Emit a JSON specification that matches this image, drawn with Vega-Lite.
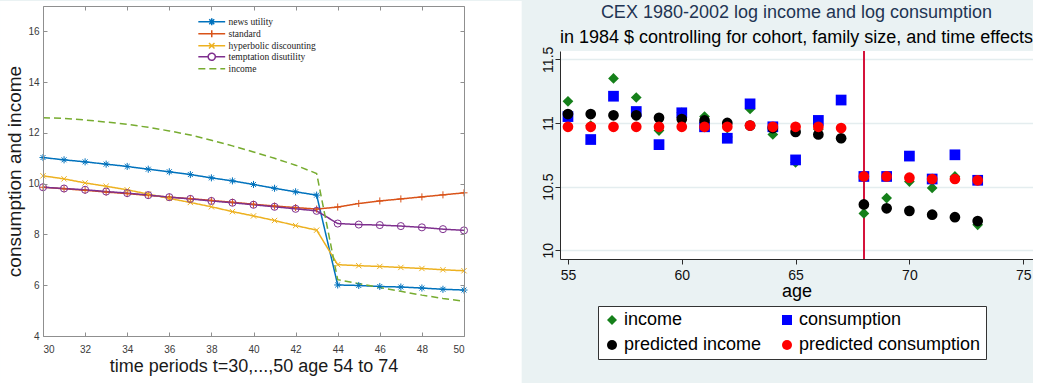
{
  "$schema": "https://vega.github.io/schema/vega-lite/v6.json",
  "background": "#eaf2f3",
  "padding": 0,
  "spacing": 19,
  "resolve": {"scale": {"color": "independent", "shape": "independent", "strokeDash": "independent"}, "legend": {"color": "independent", "shape": "independent", "strokeDash": "independent"}},
  "datasets": {
    "sim": [
      {"t": 30, "series": "news utility", "value": 11.03}, {"t": 31, "series": "news utility", "value": 10.94}, {"t": 32, "series": "news utility", "value": 10.86}, {"t": 33, "series": "news utility", "value": 10.77}, {"t": 34, "series": "news utility", "value": 10.68}, {"t": 35, "series": "news utility", "value": 10.57}, {"t": 36, "series": "news utility", "value": 10.47}, {"t": 37, "series": "news utility", "value": 10.36}, {"t": 38, "series": "news utility", "value": 10.23}, {"t": 39, "series": "news utility", "value": 10.11}, {"t": 40, "series": "news utility", "value": 9.97}, {"t": 41, "series": "news utility", "value": 9.82}, {"t": 42, "series": "news utility", "value": 9.68}, {"t": 43, "series": "news utility", "value": 9.55}, {"t": 44, "series": "news utility", "value": 6.01}, {"t": 45, "series": "news utility", "value": 5.99}, {"t": 46, "series": "news utility", "value": 5.95}, {"t": 47, "series": "news utility", "value": 5.93}, {"t": 48, "series": "news utility", "value": 5.89}, {"t": 49, "series": "news utility", "value": 5.84}, {"t": 50, "series": "news utility", "value": 5.81},
      {"t": 30, "series": "standard", "value": 9.86}, {"t": 31, "series": "standard", "value": 9.8}, {"t": 32, "series": "standard", "value": 9.74}, {"t": 33, "series": "standard", "value": 9.67}, {"t": 34, "series": "standard", "value": 9.61}, {"t": 35, "series": "standard", "value": 9.54}, {"t": 36, "series": "standard", "value": 9.47}, {"t": 37, "series": "standard", "value": 9.41}, {"t": 38, "series": "standard", "value": 9.34}, {"t": 39, "series": "standard", "value": 9.27}, {"t": 40, "series": "standard", "value": 9.19}, {"t": 41, "series": "standard", "value": 9.12}, {"t": 42, "series": "standard", "value": 9.06}, {"t": 43, "series": "standard", "value": 9.0}, {"t": 44, "series": "standard", "value": 9.08}, {"t": 45, "series": "standard", "value": 9.22}, {"t": 46, "series": "standard", "value": 9.32}, {"t": 47, "series": "standard", "value": 9.4}, {"t": 48, "series": "standard", "value": 9.48}, {"t": 49, "series": "standard", "value": 9.56}, {"t": 50, "series": "standard", "value": 9.64},
      {"t": 30, "series": "hyperbolic discounting", "value": 10.31}, {"t": 31, "series": "hyperbolic discounting", "value": 10.19}, {"t": 32, "series": "hyperbolic discounting", "value": 10.03}, {"t": 33, "series": "hyperbolic discounting", "value": 9.9}, {"t": 34, "series": "hyperbolic discounting", "value": 9.76}, {"t": 35, "series": "hyperbolic discounting", "value": 9.59}, {"t": 36, "series": "hyperbolic discounting", "value": 9.42}, {"t": 37, "series": "hyperbolic discounting", "value": 9.26}, {"t": 38, "series": "hyperbolic discounting", "value": 9.09}, {"t": 39, "series": "hyperbolic discounting", "value": 8.9}, {"t": 40, "series": "hyperbolic discounting", "value": 8.73}, {"t": 41, "series": "hyperbolic discounting", "value": 8.55}, {"t": 42, "series": "hyperbolic discounting", "value": 8.35}, {"t": 43, "series": "hyperbolic discounting", "value": 8.17}, {"t": 44, "series": "hyperbolic discounting", "value": 6.81}, {"t": 45, "series": "hyperbolic discounting", "value": 6.77}, {"t": 46, "series": "hyperbolic discounting", "value": 6.74}, {"t": 47, "series": "hyperbolic discounting", "value": 6.7}, {"t": 48, "series": "hyperbolic discounting", "value": 6.66}, {"t": 49, "series": "hyperbolic discounting", "value": 6.61}, {"t": 50, "series": "hyperbolic discounting", "value": 6.57},
      {"t": 30, "series": "temptation disutility", "value": 9.86}, {"t": 31, "series": "temptation disutility", "value": 9.81}, {"t": 32, "series": "temptation disutility", "value": 9.76}, {"t": 33, "series": "temptation disutility", "value": 9.69}, {"t": 34, "series": "temptation disutility", "value": 9.63}, {"t": 35, "series": "temptation disutility", "value": 9.55}, {"t": 36, "series": "temptation disutility", "value": 9.47}, {"t": 37, "series": "temptation disutility", "value": 9.4}, {"t": 38, "series": "temptation disutility", "value": 9.32}, {"t": 39, "series": "temptation disutility", "value": 9.25}, {"t": 40, "series": "temptation disutility", "value": 9.17}, {"t": 41, "series": "temptation disutility", "value": 9.09}, {"t": 42, "series": "temptation disutility", "value": 9.01}, {"t": 43, "series": "temptation disutility", "value": 8.93}, {"t": 44, "series": "temptation disutility", "value": 8.43}, {"t": 45, "series": "temptation disutility", "value": 8.39}, {"t": 46, "series": "temptation disutility", "value": 8.37}, {"t": 47, "series": "temptation disutility", "value": 8.33}, {"t": 48, "series": "temptation disutility", "value": 8.28}, {"t": 49, "series": "temptation disutility", "value": 8.21}, {"t": 50, "series": "temptation disutility", "value": 8.16},
      {"t": 30, "series": "income", "value": 12.6}, {"t": 31, "series": "income", "value": 12.57}, {"t": 32, "series": "income", "value": 12.51}, {"t": 33, "series": "income", "value": 12.43}, {"t": 34, "series": "income", "value": 12.34}, {"t": 35, "series": "income", "value": 12.22}, {"t": 36, "series": "income", "value": 12.08}, {"t": 37, "series": "income", "value": 11.92}, {"t": 38, "series": "income", "value": 11.71}, {"t": 39, "series": "income", "value": 11.49}, {"t": 40, "series": "income", "value": 11.25}, {"t": 41, "series": "income", "value": 11.0}, {"t": 42, "series": "income", "value": 10.73}, {"t": 43, "series": "income", "value": 10.4}, {"t": 44, "series": "income", "value": 6.22}, {"t": 45, "series": "income", "value": 6.06}, {"t": 46, "series": "income", "value": 5.91}, {"t": 47, "series": "income", "value": 5.76}, {"t": 48, "series": "income", "value": 5.61}, {"t": 49, "series": "income", "value": 5.48}, {"t": 50, "series": "income", "value": 5.37}
    ],
    "cex": [
      {"age": 55, "series": "income", "value": 11.17}, {"age": 56, "series": "income", "value": 10.98}, {"age": 57, "series": "income", "value": 11.35}, {"age": 58, "series": "income", "value": 11.2}, {"age": 59, "series": "income", "value": 10.94}, {"age": 60, "series": "income", "value": 11.08}, {"age": 61, "series": "income", "value": 11.05}, {"age": 62, "series": "income", "value": 10.89}, {"age": 63, "series": "income", "value": 11.11}, {"age": 64, "series": "income", "value": 10.91}, {"age": 65, "series": "income", "value": 10.69}, {"age": 66, "series": "income", "value": 10.95}, {"age": 67, "series": "income", "value": 10.88}, {"age": 68, "series": "income", "value": 10.29}, {"age": 69, "series": "income", "value": 10.41}, {"age": 70, "series": "income", "value": 10.54}, {"age": 71, "series": "income", "value": 10.49}, {"age": 72, "series": "income", "value": 10.58}, {"age": 73, "series": "income", "value": 10.2},
      {"age": 55, "series": "consumption", "value": 11.05}, {"age": 56, "series": "consumption", "value": 10.87}, {"age": 57, "series": "consumption", "value": 11.21}, {"age": 58, "series": "consumption", "value": 11.09}, {"age": 59, "series": "consumption", "value": 10.83}, {"age": 60, "series": "consumption", "value": 11.08}, {"age": 61, "series": "consumption", "value": 10.97}, {"age": 62, "series": "consumption", "value": 10.88}, {"age": 63, "series": "consumption", "value": 11.15}, {"age": 64, "series": "consumption", "value": 10.97}, {"age": 65, "series": "consumption", "value": 10.71}, {"age": 66, "series": "consumption", "value": 11.02}, {"age": 67, "series": "consumption", "value": 11.18}, {"age": 68, "series": "consumption", "value": 10.58}, {"age": 69, "series": "consumption", "value": 10.58}, {"age": 70, "series": "consumption", "value": 10.74}, {"age": 71, "series": "consumption", "value": 10.56}, {"age": 72, "series": "consumption", "value": 10.75}, {"age": 73, "series": "consumption", "value": 10.55},
      {"age": 55, "series": "predicted income", "value": 11.07}, {"age": 56, "series": "predicted income", "value": 11.07}, {"age": 57, "series": "predicted income", "value": 11.06}, {"age": 58, "series": "predicted income", "value": 11.06}, {"age": 59, "series": "predicted income", "value": 11.04}, {"age": 60, "series": "predicted income", "value": 11.03}, {"age": 61, "series": "predicted income", "value": 11.02}, {"age": 62, "series": "predicted income", "value": 11.0}, {"age": 63, "series": "predicted income", "value": 10.98}, {"age": 64, "series": "predicted income", "value": 10.96}, {"age": 65, "series": "predicted income", "value": 10.93}, {"age": 66, "series": "predicted income", "value": 10.91}, {"age": 67, "series": "predicted income", "value": 10.88}, {"age": 68, "series": "predicted income", "value": 10.36}, {"age": 69, "series": "predicted income", "value": 10.33}, {"age": 70, "series": "predicted income", "value": 10.31}, {"age": 71, "series": "predicted income", "value": 10.28}, {"age": 72, "series": "predicted income", "value": 10.26}, {"age": 73, "series": "predicted income", "value": 10.23},
      {"age": 55, "series": "predicted consumption", "value": 10.97}, {"age": 56, "series": "predicted consumption", "value": 10.97}, {"age": 57, "series": "predicted consumption", "value": 10.97}, {"age": 58, "series": "predicted consumption", "value": 10.97}, {"age": 59, "series": "predicted consumption", "value": 10.97}, {"age": 60, "series": "predicted consumption", "value": 10.97}, {"age": 61, "series": "predicted consumption", "value": 10.97}, {"age": 62, "series": "predicted consumption", "value": 10.97}, {"age": 63, "series": "predicted consumption", "value": 10.98}, {"age": 64, "series": "predicted consumption", "value": 10.97}, {"age": 65, "series": "predicted consumption", "value": 10.97}, {"age": 66, "series": "predicted consumption", "value": 10.97}, {"age": 67, "series": "predicted consumption", "value": 10.96}, {"age": 68, "series": "predicted consumption", "value": 10.58}, {"age": 69, "series": "predicted consumption", "value": 10.58}, {"age": 70, "series": "predicted consumption", "value": 10.57}, {"age": 71, "series": "predicted consumption", "value": 10.56}, {"age": 72, "series": "predicted consumption", "value": 10.56}, {"age": 73, "series": "predicted consumption", "value": 10.55}
    ]
  },
  "hconcat": [
    {
      "width": 421,
      "height": 330,
      "view": {"stroke": null},
      "resolve": {"axis": {"x": "independent", "y": "independent"}},
      "layer": [
        {
          "data": {"values": [{"panel": "simulation"}]},
          "mark": {"type": "rect", "fill": "white", "clip": false},
          "encoding": {
            "x": {"datum": 27.96, "type": "quantitative", "scale": {"domain": [30, 50], "nice": false, "zero": false}, "axis": null},
            "x2": {"datum": 52.74},
            "y": {"datum": 2.11, "type": "quantitative", "scale": {"domain": [4, 17], "nice": false, "zero": false}, "axis": null},
            "y2": {"datum": 17.2}
          }
        },
        {
          "data": {"name": "sim"},
          "mark": {"type": "line", "strokeWidth": 1.5, "clip": true},
          "encoding": {
            "x": {
              "field": "t", "type": "quantitative",
              "scale": {"domain": [30, 50], "nice": false, "zero": false},
              "axis": {
                "orient": "bottom", "zindex": 1, "values": [30, 32, 34, 36, 38, 40, 42, 44, 46, 48, 50], "format": "d",
                "grid": false, "tickSize": -4, "domainColor": "#8f8f8f", "tickColor": "#8f8f8f",
                "labelFont": "Liberation Sans", "labelFontSize": 10, "labelColor": "#3a3a3a", "labelPadding": 12,
                "title": "time periods t=30,...,50 age 54 to 74", "titleFont": "Liberation Sans", "titleFontSize": 18,
                "titleFontWeight": "normal", "titleColor": "#1a1a1a", "titlePadding": 3
              }
            },
            "y": {
              "field": "value", "type": "quantitative",
              "scale": {"domain": [4, 17], "nice": false, "zero": false},
              "axis": {
                "orient": "left", "zindex": 1, "values": [4, 6, 8, 10, 12, 14, 16], "format": "d",
                "grid": false, "tickSize": -4, "domainColor": "#8f8f8f", "tickColor": "#8f8f8f",
                "labelFont": "Liberation Sans", "labelFontSize": 10, "labelColor": "#3a3a3a", "labelPadding": 8,
                "title": "consumption and income", "titleFont": "Liberation Sans", "titleFontSize": 19,
                "titleFontWeight": "normal", "titleColor": "#1a1a1a", "titlePadding": 3
              }
            },
            "color": {
              "field": "series", "type": "nominal",
              "scale": {
                "domain": ["news utility", "standard", "hyperbolic discounting", "temptation disutility", "income"],
                "range": ["#0072bd", "#d95319", "#edb120", "#7e2f8e", "#77ac30"]
              },
              "legend": {
                "orient": "none", "legendX": 164, "legendY": 11, "title": null, "padding": 0,
                "labelFont": "Liberation Serif", "labelFontSize": 9.5, "labelColor": "#222222",
                "symbolSize": 30, "symbolStrokeWidth": 1.5, "symbolFillColor": "transparent", "rowPadding": -6.5, "labelOffset": 12,
                "encode": {
                  "symbols": {
                    "update": {
                      "fill": {"value": "transparent"},
                      "shape": {"signal": "datum.value === 'news utility' ? 'M-4.9,0L4.9,0M-1.3,0L1.3,0M0,-1.3L0,1.3M-0.9,-0.9L0.9,0.9M-0.9,0.9L0.9,-0.9' : datum.value === 'standard' ? 'M-4.9,0L4.9,0M0,-1.3L0,1.3' : datum.value === 'hyperbolic discounting' ? 'M-4.9,0L4.9,0M-1,-1L1,1M-1,1L1,-1' : datum.value === 'temptation disutility' ? 'M-4.9,0L-1.3,0M1.3,0L4.9,0M1.3,0A1.3,1.3,0,1,1,-1.3,0A1.3,1.3,0,1,1,1.3,0' : 'M-4.9,0L4.9,0'"}
                    }
                  }
                }
              }
            },
            "strokeDash": {
              "field": "series", "type": "nominal",
              "scale": {
                "domain": ["news utility", "standard", "hyperbolic discounting", "temptation disutility", "income"],
                "range": [[1, 0], [1, 0], [1, 0], [1, 0], [7, 4]]
              }
            }
          }
        },
        {
          "data": {"name": "sim"},
          "transform": [{"filter": "datum.series !== 'income'"}],
          "mark": {"type": "point", "filled": false, "size": 50, "strokeWidth": 1, "opacity": 1},
          "encoding": {
            "x": {
              "field": "t", "type": "quantitative",
              "scale": {"domain": [30, 50], "nice": false, "zero": false},
              "axis": {
                "orient": "top", "zindex": 1, "values": [30, 32, 34, 36, 38, 40, 42, 44, 46, 48, 50],
                "grid": false, "labels": false, "title": null, "tickSize": -4,
                "domainColor": "#8f8f8f", "tickColor": "#8f8f8f"
              }
            },
            "y": {
              "field": "value", "type": "quantitative",
              "scale": {"domain": [4, 17], "nice": false, "zero": false},
              "axis": {
                "orient": "right", "zindex": 1, "values": [4, 6, 8, 10, 12, 14, 16],
                "grid": false, "labels": false, "title": null, "tickSize": -4,
                "domainColor": "#8f8f8f", "tickColor": "#8f8f8f"
              }
            },
            "color": {
              "field": "series", "type": "nominal",
              "scale": {
                "domain": ["news utility", "standard", "hyperbolic discounting", "temptation disutility", "income"],
                "range": ["#0072bd", "#d95319", "#edb120", "#7e2f8e", "#77ac30"]
              },
              "legend": null
            },
            "shape": {
              "field": "series", "type": "nominal",
              "scale": {
                "domain": ["news utility", "standard", "hyperbolic discounting", "temptation disutility"],
                "range": [
                  "M-1,0L1,0M0,-1L0,1M-0.7,-0.7L0.7,0.7M-0.7,0.7L0.7,-0.7",
                  "M-1,0L1,0M0,-1L0,1",
                  "M-0.75,-0.75L0.75,0.75M-0.75,0.75L0.75,-0.75",
                  "circle"
                ]
              },
              "legend": null
            }
          }
        }
      ]
    },
    {
      "spacing": -1,
      "vconcat": [
        {
          "width": 473,
          "height": 1,
          "view": {"stroke": null, "fill": null},
          "data": {"values": []},
          "mark": {"type": "rule"},
          "encoding": {},
          "title": {
            "text": "CEX 1980-2002 log income and log consumption",
            "subtitle": "in 1984 $ controlling for cohort, family size, and time effects",
            "orient": "bottom", "anchor": "middle", "frame": "group",
            "font": "Liberation Sans", "fontSize": 18, "fontWeight": "normal", "color": "#1f3553",
            "subtitleFont": "Liberation Sans", "subtitleFontSize": 18, "subtitleColor": "#000000",
            "subtitlePadding": 7, "offset": -3
          }
        },
        {
          "width": 473,
          "height": 208,
          "view": {"fill": "white", "stroke": null},
          "data": {"name": "cex"},
          "layer": [
            {
              "mark": {"type": "rule", "color": "#d4143c", "strokeWidth": 1.2},
              "encoding": {
                "x": {"datum": 68, "type": "quantitative"}
              }
            },
            {
              "mark": {"type": "point", "filled": true, "size": 115, "opacity": 1},
              "encoding": {
                "x": {
                  "field": "age", "type": "quantitative",
                  "scale": {"domain": [54.65, 75.43], "nice": false, "zero": false},
                  "axis": {
                    "values": [55, 60, 65, 70, 75], "format": "d", "grid": false,
                    "domainColor": "#2a2a2a", "tickColor": "#2a2a2a", "tickSize": 5,
                    "labelFont": "Liberation Sans", "labelFontSize": 14, "labelColor": "#111111", "labelPadding": 4,
                    "title": "age", "titleFont": "Liberation Sans", "titleFontSize": 18, "titleFontWeight": "normal",
                    "titleColor": "#000000", "titlePadding": 0
                  }
                },
                "y": {
                  "field": "value", "type": "quantitative",
                  "scale": {"domain": [9.932, 11.565], "nice": false, "zero": false},
                  "axis": {
                    "values": [10, 10.5, 11, 11.5], "format": "~g", "grid": true,
                    "gridColor": "#e4edef", "gridWidth": 1.5,
                    "domainColor": "#2a2a2a", "tickColor": "#2a2a2a", "tickSize": 5,
                    "labelFont": "Liberation Sans", "labelFontSize": 14, "labelColor": "#111111",
                    "labelAngle": 270, "labelPadding": 0, "title": null
                  }
                },
                "color": {
                  "field": "series", "type": "nominal",
                  "scale": {
                    "domain": ["income", "consumption", "predicted income", "predicted consumption"],
                    "range": ["#15801a", "#0000ff", "#000000", "#ff0000"]
                  },
                  "legend": {
                    "orient": "none", "legendX": 38, "legendY": 300, "columns": 2, "direction": "horizontal", "title": null,
                    "padding": 5, "columnPadding": 16, "rowPadding": 7, "labelOffset": 3, "labelLimit": 400,
                    "labelFont": "Liberation Sans", "labelFontSize": 18, "labelColor": "#000000",
                    "symbolSize": 100, "symbolStrokeWidth": 0, "symbolOpacity": 1,
                    "strokeColor": "#333333", "fillColor": "#ffffff"
                  }
                },
                "shape": {
                  "field": "series", "type": "nominal",
                  "scale": {
                    "domain": ["income", "consumption", "predicted income", "predicted consumption"],
                    "range": ["diamond", "square", "circle", "circle"]
                  }
                }
              }
            }
          ]
        }
      ]
    }
  ]
}
